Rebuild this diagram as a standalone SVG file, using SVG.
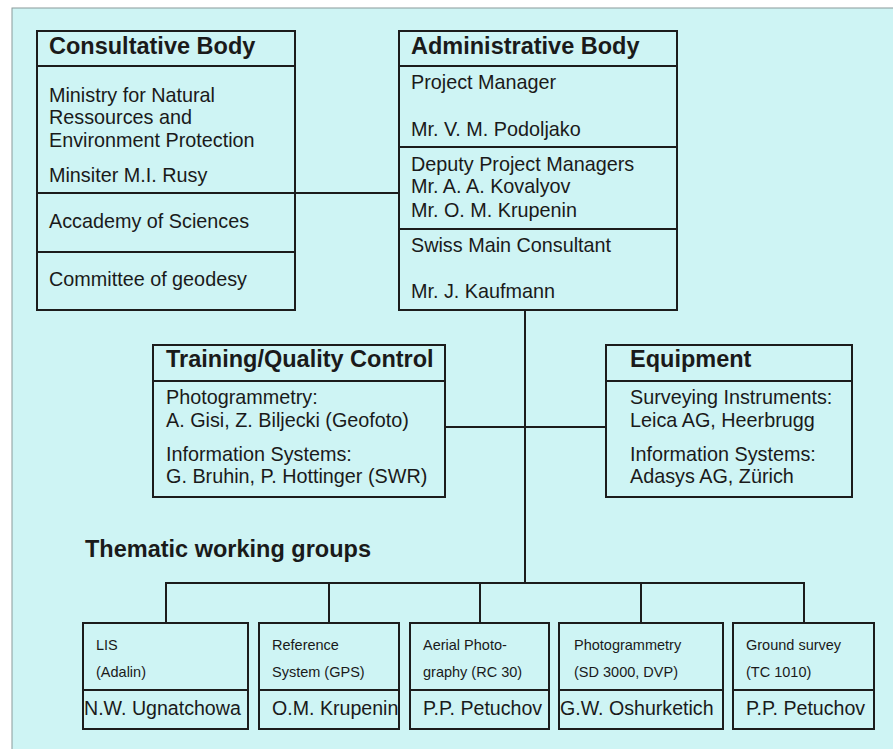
<svg xmlns="http://www.w3.org/2000/svg" width="893" height="749" viewBox="0 0 893 749">
<style>
.box{fill:none;stroke:#1c1c1c;stroke-width:2}
.div{stroke:#1c1c1c;stroke-width:2}
.con{stroke:#1c1c1c;stroke-width:2;fill:none}
text{font-family:"Liberation Sans",Arial,sans-serif;fill:#1a1a1a}
.h{font-size:23.5px;font-weight:bold}
.t{font-size:19.8px}
.s{font-size:14.5px}
.n{font-size:19.6px}
</style>
<rect x="0" y="0" width="893" height="749" fill="#ffffff"/>
<rect x="12" y="8" width="890" height="746" fill="#cef4f4" stroke="#8a9a9a" stroke-width="1"/>

<g id="connectors">
<line class="con" x1="295" y1="193" x2="399" y2="193"/>
<line class="con" x1="525" y1="310" x2="525" y2="583"/>
<line class="con" x1="445" y1="427" x2="606" y2="427"/>
<polyline class="con" points="166,623 166,583 804,583 804,623"/>
<line class="con" x1="329" y1="583" x2="329" y2="623"/>
<line class="con" x1="480" y1="583" x2="480" y2="623"/>
<line class="con" x1="641" y1="583" x2="641" y2="623"/>
</g>

<g id="consultative">
<rect class="box" x="37" y="31" width="258" height="279"/>
<line class="div" x1="37" y1="66" x2="295" y2="66"/>
<line class="div" x1="37" y1="193" x2="295" y2="193"/>
<line class="div" x1="37" y1="252" x2="295" y2="252"/>
<text class="h" x="49" y="54">Consultative Body</text>
<text class="t" x="49" y="102">Ministry for Natural</text>
<text class="t" x="49" y="124">Ressources and</text>
<text class="t" x="49" y="147">Environment Protection</text>
<text class="t" x="49" y="182">Minsiter M.I. Rusy</text>
<text class="t" x="49" y="228">Accademy of Sciences</text>
<text class="t" x="49" y="286">Committee of geodesy</text>
</g>

<g id="administrative">
<rect class="box" x="399" y="31" width="278" height="279"/>
<line class="div" x1="399" y1="66" x2="677" y2="66"/>
<line class="div" x1="399" y1="147" x2="677" y2="147"/>
<line class="div" x1="399" y1="229" x2="677" y2="229"/>
<text class="h" x="411" y="54">Administrative Body</text>
<text class="t" x="411" y="89">Project Manager</text>
<text class="t" x="411" y="136">Mr. V. M. Podoljako</text>
<text class="t" x="411" y="171">Deputy Project Managers</text>
<text class="t" x="411" y="193">Mr. A. A. Kovalyov</text>
<text class="t" x="411" y="217">Mr. O. M. Krupenin</text>
<text class="t" x="411" y="252">Swiss Main Consultant</text>
<text class="t" x="411" y="298">Mr. J. Kaufmann</text>
</g>

<g id="training">
<rect class="box" x="153" y="345" width="292" height="152"/>
<line class="div" x1="153" y1="381" x2="445" y2="381"/>
<text class="h" x="166" y="367">Training/Quality Control</text>
<text class="t" x="166" y="404">Photogrammetry:</text>
<text class="t" x="166" y="427">A. Gisi, Z. Biljecki (Geofoto)</text>
<text class="t" x="166" y="461">Information Systems:</text>
<text class="t" x="166" y="483">G. Bruhin, P. Hottinger (SWR)</text>
</g>

<g id="equipment">
<rect class="box" x="606" y="345" width="246" height="152"/>
<line class="div" x1="606" y1="381" x2="852" y2="381"/>
<text class="h" x="630" y="367">Equipment</text>
<text class="t" x="630" y="404">Surveying Instruments:</text>
<text class="t" x="630" y="427">Leica AG, Heerbrugg</text>
<text class="t" x="630" y="461">Information Systems:</text>
<text class="t" x="630" y="483">Adasys AG, Zürich</text>
</g>

<g id="thematic-title">
<text class="h" x="85" y="557">Thematic working groups</text>
</g>

<g id="lis">
<rect class="box" x="83" y="623" width="165" height="106"/>
<line class="div" x1="83" y1="690" x2="248" y2="690"/>
<text class="s" x="96" y="650">LIS</text>
<text class="s" x="96" y="677">(Adalin)</text>
<text class="n" x="84" y="715">N.W. Ugnatchowa</text>
</g>

<g id="reference">
<rect class="box" x="259" y="623" width="140" height="106"/>
<line class="div" x1="259" y1="690" x2="399" y2="690"/>
<text class="s" x="272" y="650">Reference</text>
<text class="s" x="272" y="677">System (GPS)</text>
<text class="n" x="272" y="715">O.M. Krupenin</text>
</g>

<g id="aerial">
<rect class="box" x="410" y="623" width="139" height="106"/>
<line class="div" x1="410" y1="690" x2="549" y2="690"/>
<text class="s" x="423" y="650">Aerial Photo-</text>
<text class="s" x="423" y="677">graphy (RC 30)</text>
<text class="n" x="423" y="715">P.P. Petuchov</text>
</g>

<g id="photogrammetry">
<rect class="box" x="559" y="623" width="164" height="106"/>
<line class="div" x1="559" y1="690" x2="723" y2="690"/>
<text class="s" x="574" y="650">Photogrammetry</text>
<text class="s" x="574" y="677">(SD 3000, DVP)</text>
<text class="n" x="560" y="715">G.W. Oshurketich</text>
</g>

<g id="ground">
<rect class="box" x="733" y="623" width="141" height="106"/>
<line class="div" x1="733" y1="690" x2="874" y2="690"/>
<text class="s" x="746" y="650">Ground survey</text>
<text class="s" x="746" y="677">(TC 1010)</text>
<text class="n" x="746" y="715">P.P. Petuchov</text>
</g>
</svg>
